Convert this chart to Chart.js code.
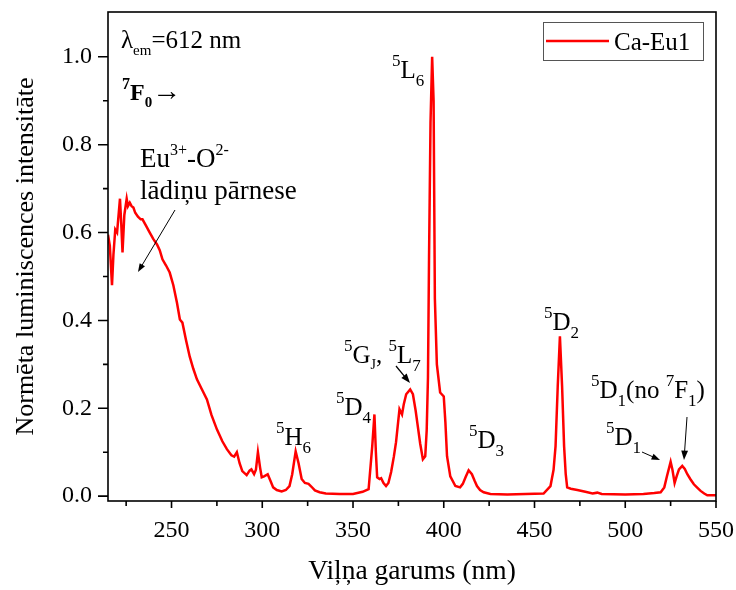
<!DOCTYPE html>
<html>
<head>
<meta charset="utf-8">
<script src="https://cdn.jsdelivr.net/npm/chart.js@4.4.1/dist/chart.umd.min.js"></script>
<style>
  html, body { margin: 0; padding: 0; background: #fff; overflow: hidden; }
  canvas { display: block; }
</style>
</head>
<body>
<canvas id="spectrum" width="736" height="590"></canvas>
<script>
// excitation spectrum
const wavelength = [
  215, 216, 217.2, 218, 219, 220, 221.6, 222.3, 223, 224, 225.3, 226, 227, 228, 229, 230,
  231.5, 233, 234, 236, 238, 240, 242, 243.5, 245, 247, 249, 251, 253, 254.6, 256, 258,
  260, 262, 264, 266.5, 269.5, 272, 275, 278, 280.5, 283, 284.5, 286, 287.5, 289, 291.4, 293,
  294, 295.5, 296.5, 297.6, 298.8, 299.7, 301, 303, 304.5, 306, 308, 310.7, 313, 315, 316.5, 318.4,
  320, 321.7, 323.5, 325.5, 327, 329, 331.6, 335, 342.6, 350, 355.3, 358.6, 360.6, 361.8, 362.6, 363.3,
  364.6, 365.5, 366.8, 368.2, 369.5, 371, 372.5, 373.7, 375.6, 377, 378, 379.3, 381.5, 383, 384.5, 385.7,
  387, 388.5, 389.8, 390.6, 391.3, 391.9, 392.7, 393.6, 394.4, 395.1, 396.2, 398, 400, 400.9, 401.8, 403.6,
  406.4, 409, 410.5, 412, 413.7, 415.5, 417, 418.3, 420, 422, 425.7, 435, 445, 455, 458.8, 460.5,
  461.6, 462.8, 464, 465.2, 466.3, 467.2, 468, 470, 473.6, 478, 482, 484.6, 487, 500, 510, 516,
  519.5, 521.5, 523, 525, 526, 527.2, 528.3, 529.6, 531.4, 532.8, 534.2, 536, 537.8, 539.5, 541.5, 543.5,
  545.2, 550
];
const intensity = [
  0.595, 0.57, 0.48, 0.55, 0.607, 0.60, 0.677, 0.62, 0.555, 0.64, 0.677, 0.66, 0.668, 0.66, 0.657, 0.645,
  0.636, 0.63, 0.63, 0.615, 0.60, 0.585, 0.573, 0.56, 0.539, 0.525, 0.509, 0.48, 0.44, 0.402, 0.395, 0.355,
  0.318, 0.29, 0.266, 0.245, 0.22, 0.185, 0.152, 0.125, 0.107, 0.093, 0.09, 0.1, 0.075, 0.057, 0.048, 0.058,
  0.061, 0.05, 0.06, 0.1, 0.065, 0.043, 0.045, 0.05, 0.035, 0.02, 0.014, 0.011, 0.014, 0.023, 0.05, 0.102,
  0.075, 0.039, 0.03, 0.028, 0.022, 0.013, 0.009, 0.006, 0.005, 0.005, 0.01, 0.016, 0.114, 0.186, 0.1, 0.043,
  0.039, 0.041, 0.03, 0.023, 0.03, 0.055, 0.09, 0.123, 0.198, 0.186, 0.21, 0.232, 0.243, 0.232, 0.195, 0.159,
  0.12, 0.084, 0.091, 0.15, 0.27, 0.55, 0.85, 1.0, 0.9, 0.45, 0.3, 0.236, 0.227, 0.168, 0.091, 0.045,
  0.023, 0.02, 0.028, 0.043, 0.059, 0.05, 0.035, 0.023, 0.014, 0.009, 0.005, 0.004, 0.005, 0.006, 0.023, 0.06,
  0.114, 0.25, 0.364, 0.25, 0.114, 0.05, 0.02, 0.017, 0.014, 0.01, 0.006, 0.008, 0.005, 0.004, 0.005, 0.007,
  0.009, 0.02, 0.046, 0.078, 0.06, 0.03, 0.045, 0.061, 0.069, 0.062, 0.05, 0.038, 0.027, 0.02, 0.012, 0.006,
  0.002, 0.002
];
const seriesName = "Ca-Eu1";
const xTitle = "Viļņa garums (nm)";
const yTitle = "Normēta luminiscences intensitāte";

const SERIF = '"Liberation Serif", "Times New Roman", serif';
function fnt(size, bold) {
  return (bold ? "bold " : "") + size + "px " + SERIF;
}

// draws a run of text pieces: [text, size, baseline shift, bold]
function rich(ctx, x, y, parts) {
  ctx.textAlign = "left";
  ctx.textBaseline = "alphabetic";
  parts.forEach(p => {
    ctx.font = fnt(p[1], p[3]);
    ctx.fillText(p[0], x, y + (p[2] || 0));
    x += ctx.measureText(p[0]).width;
  });
  return x;
}

function arrow(ctx, x1, y1, x2, y2, w, head) {
  const a = Math.atan2(y2 - y1, x2 - x1);
  ctx.strokeStyle = "#000";
  ctx.fillStyle = "#000";
  ctx.lineWidth = w;
  ctx.beginPath();
  ctx.moveTo(x1, y1);
  ctx.lineTo(x2 - Math.cos(a) * head * 0.8, y2 - Math.sin(a) * head * 0.8);
  ctx.stroke();
  ctx.beginPath();
  ctx.moveTo(x2, y2);
  ctx.lineTo(x2 - head * Math.cos(a - 0.35), y2 - head * Math.sin(a - 0.35));
  ctx.lineTo(x2 - head * Math.cos(a + 0.35), y2 - head * Math.sin(a + 0.35));
  ctx.closePath();
  ctx.fill();
}

// frame + tick marks (major / minor)
const framePlugin = {
  id: "frame",
  afterDraw(chart) {
    const ctx = chart.ctx;
    const a = chart.chartArea;
    const xs = chart.scales.x, ys = chart.scales.y;
    ctx.save();
    ctx.strokeStyle = "#000";
    ctx.lineWidth = 1.6;
    ctx.strokeRect(a.left, a.top, a.right - a.left, a.bottom - a.top);
    ctx.beginPath();
    xs.ticks.forEach(t => {
      const px = xs.getPixelForValue(t.value);
      const len = t.value % 50 === 0 ? 7 : 5;
      ctx.moveTo(px, a.bottom);
      ctx.lineTo(px, a.bottom + len);
    });
    ys.ticks.forEach(t => {
      if (t.value > 1.05) return;
      const py = ys.getPixelForValue(t.value);
      const len = Math.round(t.value * 10) % 2 === 0 ? 10 : 5;
      ctx.moveTo(a.left, py);
      ctx.lineTo(a.left - len, py);
    });
    ctx.stroke();
    ctx.restore();
  }
};

const notesPlugin = {
  id: "notes",
  afterDatasetsDraw(chart) {
    const ctx = chart.ctx;
    ctx.save();
    ctx.fillStyle = "#000";
    const B = 25, S = 17;

    rich(ctx, 121, 48, [["λ", B], ["em", 15, 7], ["=612 nm", B]]);
    rich(ctx, 122, 100, [["7", 16, -11, true], ["F", 24, 0, true], ["0", 15, 7, true], ["→", 29, 0, false]]);

    rich(ctx, 140, 167, [["Eu", 27], ["3+", 16, -12], ["-O", 27], ["2-", 16, -12]]);
    rich(ctx, 140, 199, [["lādiņu pārnese", 27]]);
    arrow(ctx, 175, 210, 138, 272, 1, 9);

    rich(ctx, 392, 78, [["5", S, -12], ["L", B], ["6", S, 8]]);
    rich(ctx, 276, 445, [["5", S, -12], ["H", B], ["6", S, 8]]);
    rich(ctx, 336, 415, [["5", S, -12], ["D", B], ["4", S, 8]]);
    rich(ctx, 344, 363, [["5", S, -12], ["G", B], ["J", 14, 6], [", ", B], ["5", S, -12], ["L", B], ["7", S, 8]]);
    arrow(ctx, 396, 366, 410, 383, 1.3, 10);
    rich(ctx, 469, 448, [["5", S, -12], ["D", B], ["3", S, 8]]);
    rich(ctx, 544, 330, [["5", S, -12], ["D", B], ["2", S, 8]]);
    rich(ctx, 591, 398, [["5", S, -12], ["D", B], ["1", S, 8], ["(no ", B], ["7", S, -12], ["F", B], ["1", S, 8], [")", B]]);
    arrow(ctx, 687, 417, 684, 460, 1, 10);
    rich(ctx, 606, 445, [["5", S, -12], ["D", B], ["1", S, 8]]);
    arrow(ctx, 642, 452, 660, 460, 1, 9);

    // legend box
    ctx.strokeStyle = "#555";
    ctx.lineWidth = 1;
    ctx.strokeRect(543.5, 22.5, 160, 38);
    ctx.strokeStyle = "#ff0000";
    ctx.lineWidth = 2.5;
    ctx.beginPath();
    ctx.moveTo(546, 41);
    ctx.lineTo(609, 41);
    ctx.stroke();
    rich(ctx, 614, 50, [[seriesName, B]]);
    ctx.restore();
  }
};

const chart = new Chart("spectrum", {
  type: "line",
  data: {
    datasets: [
      {
        label: seriesName,
        data: wavelength.map((w, i) => ({ x: w, y: intensity[i] })),
        borderColor: "#ff0000",
        backgroundColor: "#ff0000",
        borderWidth: 2.5,
        pointRadius: 0,
        lineTension: 0,
        fill: false,
      },
    ],
  },
  options: {
    responsive: false,
    animation: false,
    devicePixelRatio: 1,
    layout: { padding: { top: 12, right: 20, left: 0, bottom: 0 } },
    plugins: {
      legend: { display: false },
      tooltip: { enabled: false },
    },
    scales: {
      x: {
        type: "linear",
        min: 215,
        max: 550,
        grid: { display: false, drawTicks: false },
        border: { display: false },
        ticks: {
          stepSize: 25,
          includeBounds: false,
          autoSkip: false,
          maxRotation: 0,
          padding: 15,
          color: "#000",
          font: { family: SERIF, size: 24 },
          callback: v => (v % 50 === 0 ? String(v) : ""),
        },
        title: {
          display: true,
          text: xTitle,
          color: "#000",
          font: { family: SERIF, size: 27.5 },
          padding: { top: 0, bottom: 2 },
        },
        afterFit: s => { s.height = 89; s.paddingLeft = 0; s.paddingRight = 0; },
      },
      y: {
        min: -0.011,
        max: 1.102,
        grid: { display: false, drawTicks: false },
        border: { display: false },
        ticks: {
          stepSize: 0.1,
          includeBounds: false,
          autoSkip: false,
          padding: 16,
          color: "#000",
          font: { family: SERIF, size: 24 },
          callback: v => (Math.round(v * 10) % 2 === 0 ? v.toFixed(1) : ""),
        },
        title: {
          display: true,
          text: yTitle,
          color: "#000",
          font: { family: SERIF, size: 26 },
          padding: { top: 11, bottom: 0 },
        },
        afterFit: s => { s.width = 108; s.paddingTop = 0; s.paddingBottom = 0; },
      },
    },
  },
  plugins: [framePlugin, notesPlugin],
});
</script>
</body>
</html>
